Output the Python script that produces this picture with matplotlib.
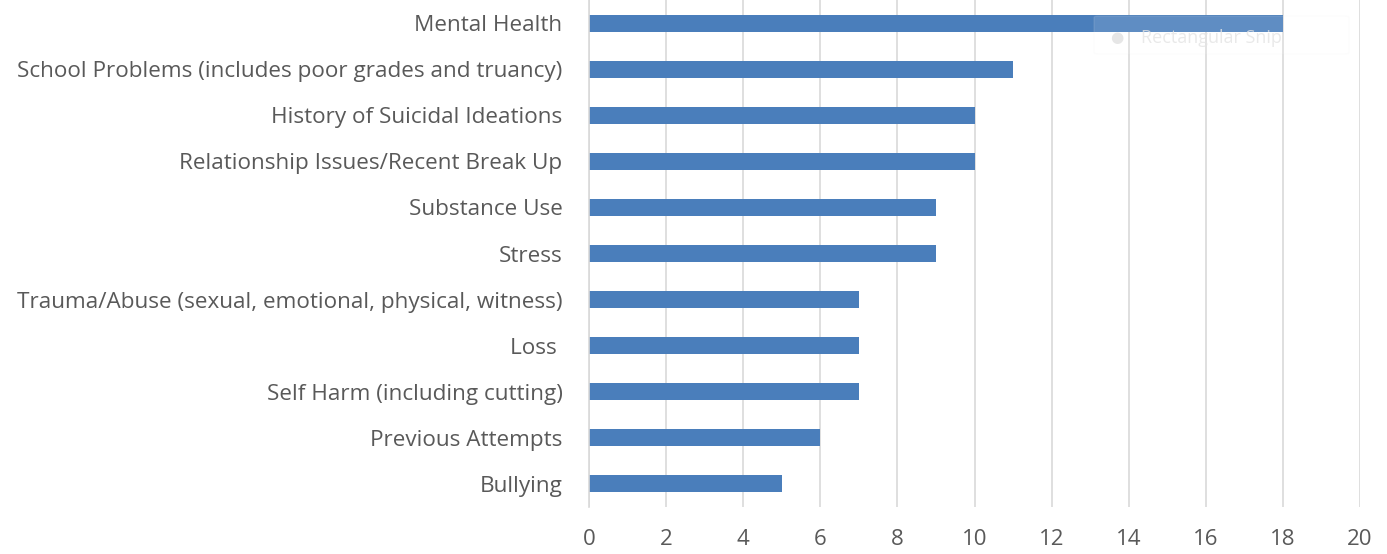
import matplotlib.pyplot as plt
from matplotlib.patches import FancyBboxPatch

# risk factors, listed top to bottom
factors = [
    "Mental Health",
    "School Problems (includes poor grades and truancy)",
    "History of Suicidal Ideations",
    "Relationship Issues/Recent Break Up",
    "Substance Use",
    "Stress",
    "Trauma/Abuse (sexual, emotional, physical, witness)",
    "Loss ",
    "Self Harm (including cutting)",
    "Previous Attempts",
    "Bullying",
]
counts = [18, 11, 10, 10, 9, 9, 7, 7, 7, 6, 5]
xticks = [0, 2, 4, 6, 8, 10, 12, 14, 16, 18, 20]

plt.rcParams['font.family'] = ['Open Sans', 'DejaVu Sans']
text_color = '#595959'

fig = plt.figure(figsize=(13.87, 5.54), dpi=100)
ax = fig.add_axes([589 / 1387, 1 - 507 / 554, 771 / 1387, 507 / 554])

ypos = range(len(factors))
ax.barh(ypos, counts, height=0.37, color='#4A7EBB', zorder=3)
ax.set_yticks(list(ypos))
ax.set_yticklabels(factors, fontsize=16.2, color=text_color)
ax.set_ylim(len(factors) - 0.5, -0.5)

ax.set_xlim(0, 20)
ax.set_xticks(xticks)
ax.set_xticklabels([str(t) for t in xticks], fontsize=16, color=text_color)
ax.xaxis.grid(True, color='#D9D9D9', linewidth=1.2, zorder=0)
ax.tick_params(axis='both', length=0)
ax.tick_params(axis='y', pad=19)
ax.tick_params(axis='x', pad=16)

for side in ['top', 'right', 'bottom']:
    ax.spines[side].set_visible(False)
ax.spines['left'].set_color('#D9D9D9')
ax.spines['left'].set_linewidth(1.2)
ax.spines['left'].set_zorder(4)

# faint snipping-tool box over the top-right corner
box = FancyBboxPatch((1094 / 1387, 1 - 54 / 554), 255 / 1387, 38 / 554,
                     boxstyle='round,pad=0,rounding_size=0.003',
                     transform=fig.transFigure, facecolor='white', alpha=0.12,
                     edgecolor='#E8E8E8', linewidth=1, zorder=10)
fig.patches.append(box)
fig.text(1110 / 1387, 1 - 38 / 554, '\u25CF', fontsize=11, color='#E6E6E6',
         va='center', family=['DejaVu Sans'], zorder=11)
fig.text(1141 / 1387, 1 - 38 / 554, 'Rectangular Snip', fontsize=13,
         color='#E4E4E4', alpha=0.8, va='center', zorder=11)

fig.savefig('out.png', dpi=100)
